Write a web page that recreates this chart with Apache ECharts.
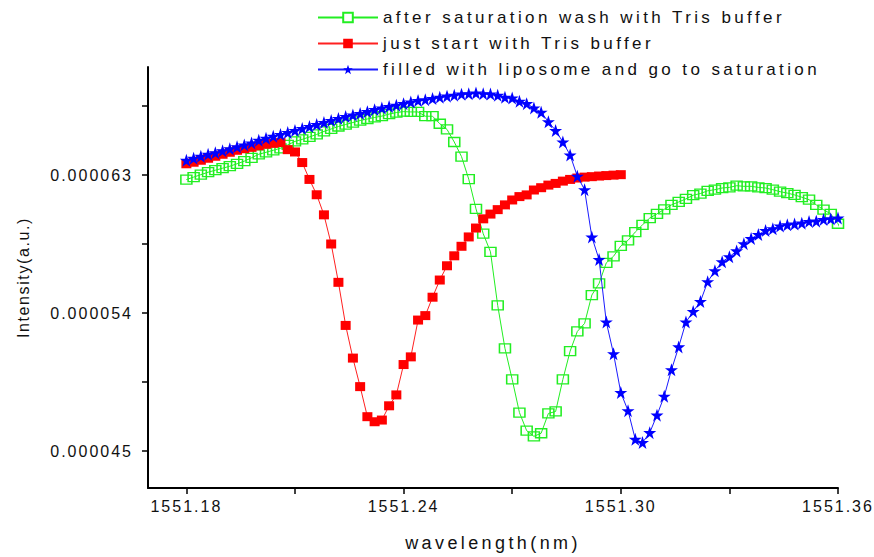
<!DOCTYPE html>
<html>
<head>
<meta charset="utf-8">
<script src="https://cdn.jsdelivr.net/npm/echarts@6/dist/echarts.min.js"></script>
<style>
  html, body { margin: 0; padding: 0; background: #ffffff; }
  #chart { width: 874px; height: 557px; }
</style>
</head>
<body>
<div id="chart"></div>
<script>
// Wavelength grid of the scans (nm), 0.002 nm step
const wavelength = [
  1551.180, 1551.182, 1551.184, 1551.186, 1551.188, 1551.190, 1551.192, 1551.194, 1551.196, 1551.198,
  1551.200, 1551.202, 1551.204, 1551.206, 1551.208, 1551.210, 1551.212, 1551.214, 1551.216, 1551.218,
  1551.220, 1551.222, 1551.224, 1551.226, 1551.228, 1551.230, 1551.232, 1551.234, 1551.236, 1551.238,
  1551.240, 1551.242, 1551.244, 1551.246, 1551.248, 1551.250, 1551.252, 1551.254, 1551.256, 1551.258,
  1551.260, 1551.262, 1551.264, 1551.266, 1551.268, 1551.270, 1551.272, 1551.274, 1551.276, 1551.278,
  1551.280, 1551.282, 1551.284, 1551.286, 1551.288, 1551.290, 1551.292, 1551.294, 1551.296, 1551.298,
  1551.300, 1551.302, 1551.304, 1551.306, 1551.308, 1551.310, 1551.312, 1551.314, 1551.316, 1551.318,
  1551.320, 1551.322, 1551.324, 1551.326, 1551.328, 1551.330, 1551.332, 1551.334, 1551.336, 1551.338,
  1551.340, 1551.342, 1551.344, 1551.346, 1551.348, 1551.350, 1551.352, 1551.354, 1551.356, 1551.358,
  1551.360, 1551.362
];

// Intensities in units of 1e-6 a.u.
const afterWash = [
  62.71, 62.87, 63.03, 63.19, 63.32, 63.45, 63.58, 63.74, 63.91, 64.13,
  64.36, 64.49, 64.62, 64.75, 64.97, 65.20, 65.33, 65.49, 65.65, 65.85,
  66.01, 66.17, 66.30, 66.43, 66.56, 66.66, 66.76, 66.85, 66.98, 67.08,
  67.14, 67.12, 67.12, 66.84, 66.84, 66.35, 65.98, 65.16, 64.21, 62.74,
  60.80, 59.18, 58.00, 54.50, 51.71, 49.68, 47.52, 46.34, 45.97, 46.17,
  47.46, 47.59, 49.68, 51.52, 52.81, 53.33, 55.18, 55.94, 57.28, 57.71,
  58.38, 58.75, 59.29, 59.76, 60.20, 60.47, 60.77, 61.06, 61.25, 61.45,
  61.69, 61.80, 61.98, 62.05, 62.16, 62.20, 62.31, 62.27, 62.27, 62.20,
  62.16, 62.05, 61.92, 61.83, 61.71, 61.56, 61.40, 61.06, 60.75, 60.47,
  59.83, 58.86
];

const justStart = [
  63.74, 63.84, 63.97, 64.10, 64.23, 64.36, 64.49, 64.62, 64.72, 64.81,
  64.91, 65.01, 65.07, 65.12, 64.66, 64.51, 63.82, 62.72, 61.72, 60.41,
  58.51, 56.01, 53.20, 51.07, 49.21, 47.25, 46.92, 47.03, 47.96, 48.67,
  50.65, 51.15, 53.55, 53.84, 55.04, 56.16, 57.09, 57.74, 58.36, 58.97,
  59.55, 60.15, 60.46, 60.75, 61.06, 61.38, 61.60, 61.71, 62.03, 62.18,
  62.35, 62.46, 62.61, 62.72, 62.81, 62.87, 62.90, 62.94, 62.97, 63.00,
  63.03
];

const liposome = [
  63.97, 64.10, 64.23, 64.36, 64.46, 64.59, 64.72, 64.85, 64.97, 65.10,
  65.27, 65.40, 65.53, 65.65, 65.78, 65.91, 66.04, 66.17, 66.30, 66.43,
  66.56, 66.69, 66.82, 66.92, 67.01, 67.14, 67.27, 67.37, 67.47, 67.56,
  67.66, 67.76, 67.86, 67.92, 67.99, 68.08, 68.15, 68.21, 68.28, 68.31,
  68.35, 68.31, 68.29, 68.20, 68.07, 68.03, 67.81, 67.66, 67.38, 67.10,
  66.48, 65.91, 65.16, 64.31, 62.92, 62.05, 58.97, 57.50, 53.42, 51.35,
  48.82, 47.64, 45.78, 45.56, 46.21, 47.35, 48.58, 50.31, 51.80, 53.42,
  54.11, 54.76, 56.05, 56.76, 57.35, 57.67, 58.06, 58.53, 58.86, 59.13,
  59.39, 59.50, 59.68, 59.76, 59.81, 59.87, 59.98, 60.00, 60.11, 60.15,
  60.20
];

const seriesNames = [
  'after saturation wash with Tris buffer',
  'just start with Tris buffer',
  'filled with liposome and go to saturation'
];

const xTicks = [1551.18, 1551.21, 1551.24, 1551.27, 1551.30, 1551.33, 1551.36];
const xLabels = [1551.18, 1551.24, 1551.30, 1551.36];
const yTicks = [45, 49.5, 54, 58.5, 63, 67.5];
const yLabels = [45, 54, 63];

const starPath = 'path://M50,0 L61.8,35.1 L98.5,35.1 L68.8,56.7 L79.4,91.9 L50,70 L20.6,91.9 L31.2,56.7 L1.5,35.1 L38.2,35.1 Z';

const pair = (vals) => vals.map((v, i) => [wavelength[i], v]);

const FONT = '"Liberation Sans", Arial, sans-serif';

const option = {
  animation: false,
  backgroundColor: '#ffffff',
  grid: { left: 148, right: 36, top: 67, bottom: 66, containLabel: false },
  legend: {
    orient: 'vertical',
    left: 312,
    top: 4,
    itemWidth: 60,
    itemHeight: 12,
    itemGap: 9,
    textStyle: { fontFamily: FONT, fontSize: 17, color: '#111111' },
    data: [
      { name: seriesNames[0], itemStyle: { color: '#ffffff' } },
      { name: seriesNames[1] },
      { name: seriesNames[2] }
    ]
  },
  xAxis: {
    type: 'value',
    min: 1551.1694,
    max: 1551.36,
    name: 'wavelength(nm)',
    nameLocation: 'middle',
    nameGap: 46,
    nameTextStyle: { fontFamily: FONT, fontSize: 18, color: '#111111' },
    axisLine: { show: true, onZero: false, lineStyle: { color: '#000000', width: 2 } },
    axisTick: { show: true, length: 6, customValues: xTicks, lineStyle: { color: '#000000', width: 1.5 } },
    axisLabel: {
      customValues: xLabels,
      margin: 10,
      fontFamily: FONT, fontSize: 16, color: '#111111',
      formatter: (v) => v.toFixed(2)
    },
    splitLine: { show: false }
  },
  yAxis: {
    type: 'value',
    min: 42.6,
    max: 70.05,
    name: 'Intensity(a.u.)',
    nameLocation: 'middle',
    nameGap: 117,
    nameTextStyle: { fontFamily: FONT, fontSize: 16, color: '#111111' },
    axisLine: { show: true, onZero: false, lineStyle: { color: '#000000', width: 2 } },
    axisTick: { show: true, length: 6, customValues: yTicks, lineStyle: { color: '#000000', width: 1.5 } },
    axisLabel: {
      customValues: yLabels,
      margin: 15,
      fontFamily: FONT, fontSize: 16, color: '#111111',
      formatter: (v) => (v * 1e-6).toFixed(6)
    },
    splitLine: { show: false }
  },
  series: [
    {
      name: seriesNames[0],
      type: 'line',
      data: pair(afterWash),
      symbol: 'rect',
      symbolSize: [11, 9],
      lineStyle: { color: '#22ee22', width: 1 },
      itemStyle: { color: 'rgba(255,255,255,0)', borderColor: '#22ee22', borderWidth: 1.4 },
      z: 2
    },
    {
      name: seriesNames[1],
      type: 'line',
      data: pair(justStart),
      symbol: 'rect',
      symbolSize: [10, 9],
      lineStyle: { color: '#ff2020', width: 1 },
      itemStyle: { color: '#ff0000', borderColor: '#ff0000', borderWidth: 0 },
      z: 3
    },
    {
      name: seriesNames[2],
      type: 'line',
      data: pair(liposome),
      symbol: starPath,
      symbolSize: 13,
      lineStyle: { color: '#1a1aff', width: 1 },
      itemStyle: { color: '#0000ff', borderWidth: 0 },
      z: 4
    }
  ]
};

const chart = echarts.init(document.getElementById('chart'), null, { renderer: 'svg' });
chart.setOption(option);

// Widen the tracking of the drawn texts
const wideTexts = new Set(seriesNames.concat(['wavelength(nm)']));
document.querySelectorAll('#chart text').forEach((t) => {
  const s = t.textContent;
  let sp = 2;
  if (wideTexts.has(s)) sp = 3.4;
  else if (s === 'Intensity(a.u.)') sp = 1.6;
  t.style.letterSpacing = sp + 'px';
});
</script>
</body>
</html>
